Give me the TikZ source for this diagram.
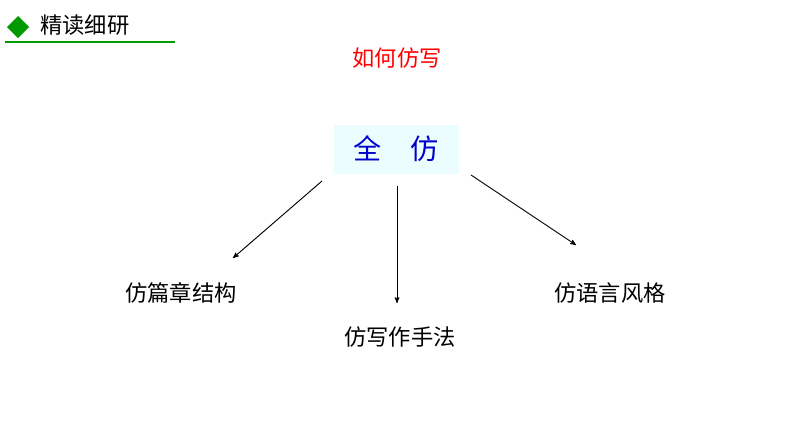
\documentclass[tikz,border=0pt]{standalone}
\usepackage{fontspec}
\setmainfont{Noto Sans CJK SC}
\usetikzlibrary{arrows,shapes}
\tikzstyle{txt}=[font=\fontsize{19pt}{21pt}\selectfont,inner sep=0pt]
\tikzstyle{edge} = [draw,thick,->,>=stealth']
\begin{document}
\begin{tikzpicture}[x=0.03cm,y=-0.03cm]
        \useasboundingbox (0,0) rectangle (794,447);
        % header
        \fill[green!60!black] (18,16) -- (29,27) -- (18,38) -- (7,27) -- cycle;
        \draw[green!60!black,line width=1.5pt] (5,42) -- (175,42);
        \node[txt,anchor=west] (title) at (40,25) {精读细研};
        \node[txt,red] (how) at (397,58) {如何仿写};

        \node[fill=blue!10!cyan!8,minimum width=125*0.03cm,minimum height=49*0.03cm,
              font=\fontsize{24pt}{26pt}\selectfont,text=blue!80!black] (all) at (396,149) {全\quad 仿};
        \node[txt] (a) at (181,293) {仿篇章结构};
        \node[txt] (b) at (400,337) {仿写作手法};
        \node[txt] (c) at (610,293) {仿语言风格};

        \coordinate (a0) at (322,181); \coordinate (a1) at (233,258);
        \coordinate (b0) at (397,186); \coordinate (b1) at (397,303);
        \coordinate (c0) at (471,175); \coordinate (c1) at (576,245);
        \draw[edge] (a0) to (a1);
        \draw[edge] (b0) to (b1);
        \draw[edge] (c0) to (c1);
\end{tikzpicture}
\end{document}
